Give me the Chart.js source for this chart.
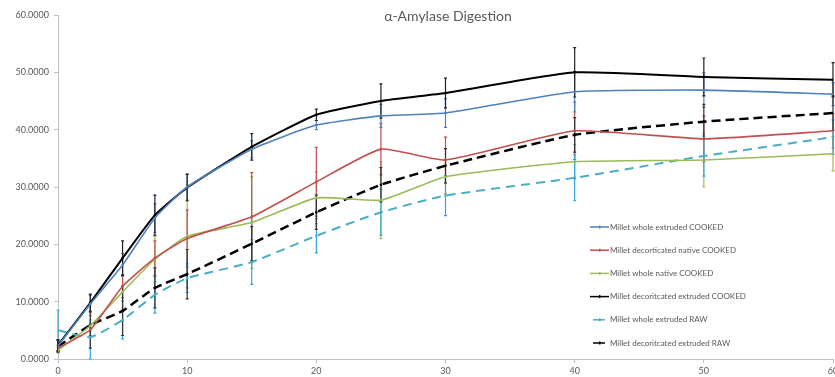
<!DOCTYPE html>
<html><head><meta charset="utf-8">
<script src="https://cdn.jsdelivr.net/npm/chart.js@4.4.0/dist/chart.umd.min.js"></script>
<style>
html,body{margin:0;padding:0;background:#fff;overflow:hidden;}
#wrap{position:relative;width:835px;height:377px;overflow:hidden;}
#box{position:absolute;left:0;top:0;width:862px;height:377px;}
</style></head><body>
<div id="wrap"><div id="box"><canvas id="c"></canvas></div></div>
<script>
const chartTitle = 'α-Amylase Digestion';
const times = [0, 2.5, 5, 7.5, 10, 15, 20, 25, 30, 40, 50, 60];
const xTicks = [0, 10, 20, 30, 40, 50, 60];
const yTicks = [0, 10, 20, 30, 40, 50, 60];
const seriesNames = [
  'Millet whole extruded COOKED',
  'Millet decorticated native COOKED',
  'Millet whole native COOKED',
  'Millet decoritcated extruded COOKED',
  'Millet whole extruded RAW',
  'Millet decoritcated extruded RAW'
];
const wholeExtrudedCooked      = [2.3, 9.6, 16.4, 24.6, 30.0, 36.6, 40.8, 42.4, 42.9, 46.6, 46.9, 46.2];
const decortNativeCooked       = [1.9, 5.1, 12.7, 17.6, 21.0, 24.8, 30.9, 36.6, 34.7, 39.8, 38.4, 39.8];
const wholeNativeCooked        = [1.5, 5.8, 11.7, 17.4, 21.4, 23.8, 28.1, 27.7, 31.8, 34.4, 34.7, 35.8];
const decortExtrudedCooked     = [2.4, 9.8, 17.6, 25.1, 29.9, 37.0, 42.6, 45.0, 46.4, 50.0, 49.2, 48.7];
const wholeExtrudedRaw         = [5.0, 3.8, 6.8, 11.2, 14.1, 16.9, 21.5, 25.6, 28.5, 31.6, 35.4, 38.7];
const decortExtrudedRaw        = [2.2, 5.9, 8.4, 12.4, 14.8, 20.1, 25.6, 30.4, 33.7, 39.1, 41.4, 42.9];
const errWholeExtrudedCooked   = [1.0, 1.5, 2.0, 2.5, 2.3, 1.5, 0.8, 2.0, 2.5, 3.5, 3.0, 2.0];
const errDecortNativeCooked    = [0.5, 1.0, 2.0, 3.0, 5.0, 7.7, 6.0, 4.5, 4.0, 5.0, 4.0, 3.0];
const errWholeNativeCooked     = [0.5, 1.0, 3.0, 4.0, 9.0, 8.0, 4.5, 6.7, 3.0, 3.0, 4.7, 3.0];
const errDecortExtrudedCooked  = [1.0, 1.5, 3.0, 3.5, 2.3, 2.3, 1.0, 3.0, 2.6, 4.3, 3.3, 3.0];
const errWholeExtrudedRaw      = [3.5, 3.8, 3.3, 3.2, 2.5, 3.9, 3.0, 4.0, 3.5, 4.0, 3.5, 3.0];
const errDecortExtrudedRaw     = [1.0, 4.0, 4.3, 3.5, 4.3, 3.0, 3.0, 3.0, 3.0, 3.0, 3.0, 3.0];

const values = [wholeExtrudedCooked, decortNativeCooked, wholeNativeCooked, decortExtrudedCooked, wholeExtrudedRaw, decortExtrudedRaw];
const errors = [errWholeExtrudedCooked, errDecortNativeCooked, errWholeNativeCooked, errDecortExtrudedCooked, errWholeExtrudedRaw, errDecortExtrudedRaw];
const colors = ['#4F81BD', '#C0504D', '#9BBB59', '#000000', '#4BACC6', '#000000'];
const widths = [1.6, 1.6, 1.6, 2, 2, 2.5];
const dashes = [[], [], [], [], [9, 6], [9, 5]];
const barColors = ['#4F81BD', '#C0504D', '#9BBB59', '#222222', '#2FA8E0', '#333333'];

const datasets = values.map((v, i) => ({
  label: seriesNames[i],
  data: times.map((t, j) => ({x: t, y: v[j]})),
  errs: errors[i],
  borderColor: colors[i],
  backgroundColor: colors[i],
  borderWidth: widths[i],
  borderDash: dashes[i],
  pointRadius: 1.3,
  pointBorderWidth: 0,
  showLine: true,
  tension: 0.15,
  fill: false
}));

const errorBarPlugin = {
  id: 'errorBars',
  beforeDatasetsDraw(chart) {
    const ctx = chart.ctx, xs = chart.scales.x, ys = chart.scales.y;
    const order = [2, 1, 4, 0, 5, 3];
    ctx.save();
    order.forEach(i => {
      const ds = chart.data.datasets[i];
      ctx.strokeStyle = barColors[i];
      ctx.lineWidth = 1.2;
      ctx.setLineDash([]);
      ds.data.forEach((p, j) => {
        const e = ds.errs[j];
        const px = xs.getPixelForValue(p.x);
        const top = ys.getPixelForValue(p.y + e);
        const bot = ys.getPixelForValue(Math.max(0, p.y - e));
        ctx.beginPath();
        ctx.moveTo(px, top); ctx.lineTo(px, bot);
        ctx.moveTo(px - 1.5, top); ctx.lineTo(px + 1.5, top);
        ctx.moveTo(px - 1.5, bot); ctx.lineTo(px + 1.5, bot);
        ctx.stroke();
      });
    });
    ctx.restore();
  }
};

const titleLegendPlugin = {
  id: 'titleLegend',
  afterDraw(chart) {
    const ctx = chart.ctx;
    ctx.save();
    ctx.fillStyle = '#595959';
    ctx.font = '14px Lato';
    ctx.textAlign = 'center';
    ctx.textBaseline = 'middle';
    ctx.fillText(chartTitle, 448, 16);
    ctx.font = '8px Lato';
    ctx.textAlign = 'left';
    chart.data.datasets.forEach((ds, i) => {
      const y = 227 + i * 23.2;
      const raw = i >= 4;
      ctx.strokeStyle = ds.borderColor;
      ctx.lineWidth = 1.5;
      ctx.setLineDash([]);
      ctx.beginPath();
      ctx.moveTo(raw ? 593 : 590, y);
      ctx.lineTo(raw ? 605 : 609, y);
      ctx.stroke();
      ctx.fillStyle = ds.borderColor;
      ctx.fillRect(599, y - 1.5, 1.5, 3);
      ctx.fillStyle = '#595959';
      ctx.fillText(ds.label, 610, y);
    });
    ctx.restore();
  }
};

new Chart(document.getElementById('c'), {
  type: 'scatter',
  data: {datasets},
  plugins: [errorBarPlugin, titleLegendPlugin],
  options: {
    responsive: true,
    maintainAspectRatio: false,
    animation: false,
    layout: {padding: {top: 15, right: 29, left: 0, bottom: 0}},
    plugins: {legend: {display: false}, title: {display: false}, tooltip: {enabled: false}},
    scales: {
      x: {
        type: 'linear', min: 0, max: 60,
        afterBuildTicks(s) { s.ticks = xTicks.map(v => ({value: v})); },
        afterFit(s) { s.height = 18; },
        grid: {drawOnChartArea: false, drawTicks: true, tickLength: 4, color: '#BFBFBF'},
        border: {color: '#BFBFBF', width: 1},
        ticks: {font: {family: 'Lato', size: 9}, color: '#595959', padding: 3, maxRotation: 0}
      },
      y: {
        min: 0, max: 60,
        afterBuildTicks(s) { s.ticks = yTicks.map(v => ({value: v})); },
        afterFit(s) { s.width = 58; },
        grid: {drawOnChartArea: false, drawTicks: true, tickLength: 4, color: '#BFBFBF'},
        border: {color: '#BFBFBF', width: 1},
        ticks: {font: {family: 'Lato', size: 9}, color: '#595959', padding: 5,
          callback: v => Number(v).toFixed(4)}
      }
    }
  }
});
</script>
</body></html>
